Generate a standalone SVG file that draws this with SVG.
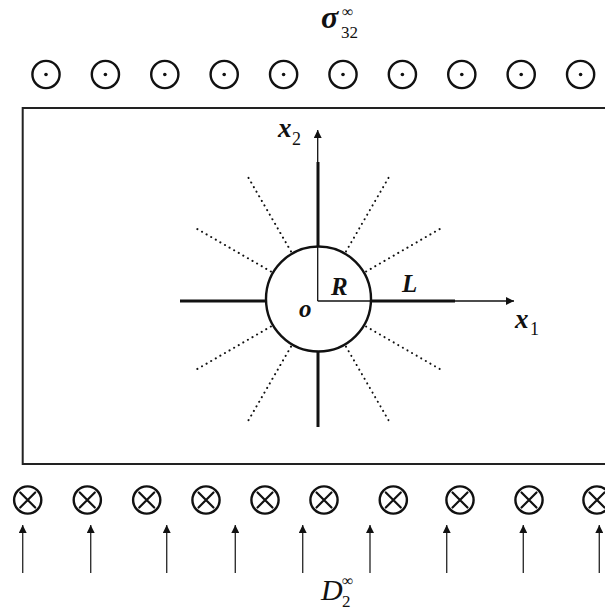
<svg xmlns="http://www.w3.org/2000/svg" width="605" height="611" viewBox="0 0 605 611">
<style>
.ring{fill:none;stroke:#111;stroke-width:2.4}
.dot{fill:#111}
.cross{stroke:#111;stroke-width:2.2;stroke-linecap:round}
.frame{fill:none;stroke:#222;stroke-width:2}
.axis{stroke:#111;stroke-width:1.3;fill:none}
.crack{stroke:#111;stroke-width:3;fill:none}
.dotted{stroke:#111;stroke-width:2;stroke-dasharray:0.1 5.2;stroke-linecap:round;fill:none}
.load{stroke:#333;stroke-width:1.4;fill:none}
.t{font-family:"Liberation Serif","Times New Roman",serif;font-style:italic;fill:#111}
.b{font-weight:bold}
.s{font-style:normal}
</style>
<defs>
<marker id="ah" viewBox="0 0 10 10" refX="10" refY="5" markerWidth="9" markerHeight="8" markerUnits="userSpaceOnUse" orient="auto">
<path d="M0,0 L10,5 L0,10 Z" fill="#111"/>
</marker>
<g id="odot"><circle class="ring" r="13.6"/><circle class="dot" r="1.8"/></g>
<g id="otimes"><circle class="ring" r="13.6"/><path class="cross" d="M-7.5,-7.5 L7.5,7.5 M7.5,-7.5 L-7.5,7.5"/></g>
</defs>
<rect width="605" height="611" fill="#fff"/>

<g id="label-sigma">
<text class="t b" x="321" y="28" font-size="32">σ</text>
<text class="t s" x="342" y="17" font-size="16">∞</text>
<text class="t s" x="341" y="38" font-size="17">32</text>
</g>

<g id="top-load">
<use href="#odot" x="46" y="74.5"/>
<use href="#odot" x="105.4" y="74.5"/>
<use href="#odot" x="164.8" y="74.5"/>
<use href="#odot" x="224.2" y="74.5"/>
<use href="#odot" x="283.6" y="74.5"/>
<use href="#odot" x="343" y="74.5"/>
<use href="#odot" x="402.4" y="74.5"/>
<use href="#odot" x="461.8" y="74.5"/>
<use href="#odot" x="521.2" y="74.5"/>
<use href="#odot" x="580.6" y="74.5"/>
</g>

<g id="body">
<path class="frame" d="M610,108 H22.7 V464 H610"/>
</g>

<g id="connectors">
<line class="axis" x1="317.7" y1="301" x2="317.7" y2="130" marker-end="url(#ah)"/>
<line class="axis" x1="317.7" y1="301" x2="514" y2="301" marker-end="url(#ah)"/>
</g>

<g id="hole">
<circle class="ring" cx="318.5" cy="299" r="52.5" stroke-width="2.8"/>
</g>

<g id="cracks">
<line class="crack" x1="318" y1="246.5" x2="318" y2="162"/>
<line class="crack" x1="318" y1="351.5" x2="318" y2="427"/>
<line class="crack" x1="266" y1="301" x2="180" y2="301"/>
<line class="crack" x1="371" y1="301" x2="455" y2="301"/>
</g>

<g id="dotted-cracks" transform="translate(318.5,299)">
<line class="dotted" x1="47.6" y1="-27.5" x2="121.2" y2="-70"/>
<line class="dotted" x1="27.5" y1="-47.6" x2="70" y2="-121.2"/>
<line class="dotted" x1="-27.5" y1="-47.6" x2="-70" y2="-121.2"/>
<line class="dotted" x1="-47.6" y1="-27.5" x2="-121.2" y2="-70"/>
<line class="dotted" x1="-47.6" y1="27.5" x2="-121.2" y2="70"/>
<line class="dotted" x1="-27.5" y1="47.6" x2="-70" y2="121.2"/>
<line class="dotted" x1="27.5" y1="47.6" x2="70" y2="121.2"/>
<line class="dotted" x1="47.6" y1="27.5" x2="121.2" y2="70"/>
</g>

<g id="labels">
<text class="t b" x="278" y="137" font-size="27">x</text>
<text class="t s" x="292" y="145" font-size="18">2</text>
<text class="t b" x="515" y="328" font-size="27">x</text>
<text class="t s" x="530" y="335" font-size="18">1</text>
<text class="t b" x="331" y="295" font-size="25">R</text>
<text class="t b" x="402" y="292" font-size="25">L</text>
<text class="t b" x="299" y="317" font-size="25">o</text>
</g>

<g id="bottom-load">
<use href="#otimes" x="27.7" y="500"/>
<use href="#otimes" x="87.3" y="500"/>
<use href="#otimes" x="146.7" y="500"/>
<use href="#otimes" x="206" y="500"/>
<use href="#otimes" x="265" y="500"/>
<use href="#otimes" x="324" y="500"/>
<use href="#otimes" x="393.3" y="500"/>
<use href="#otimes" x="460" y="500"/>
<use href="#otimes" x="529" y="500"/>
<use href="#otimes" x="597" y="500"/>
</g>

<g id="load-arrows">
<line class="load" x1="22.7" y1="573" x2="22.7" y2="525" marker-end="url(#ah)"/>
<line class="load" x1="90.7" y1="573" x2="90.7" y2="525" marker-end="url(#ah)"/>
<line class="load" x1="166.7" y1="573" x2="166.7" y2="525" marker-end="url(#ah)"/>
<line class="load" x1="235.3" y1="573" x2="235.3" y2="525" marker-end="url(#ah)"/>
<line class="load" x1="302.7" y1="573" x2="302.7" y2="525" marker-end="url(#ah)"/>
<line class="load" x1="370" y1="573" x2="370" y2="525" marker-end="url(#ah)"/>
<line class="load" x1="446.7" y1="573" x2="446.7" y2="525" marker-end="url(#ah)"/>
<line class="load" x1="523.3" y1="573" x2="523.3" y2="525" marker-end="url(#ah)"/>
<line class="load" x1="599.3" y1="573" x2="599.3" y2="525" marker-end="url(#ah)"/>
</g>

<g id="label-D">
<text class="t" x="321" y="600" font-size="30">D</text>
<text class="t s" x="342" y="586" font-size="16">∞</text>
<text class="t s" x="342" y="607" font-size="17">2</text>
</g>
</svg>
